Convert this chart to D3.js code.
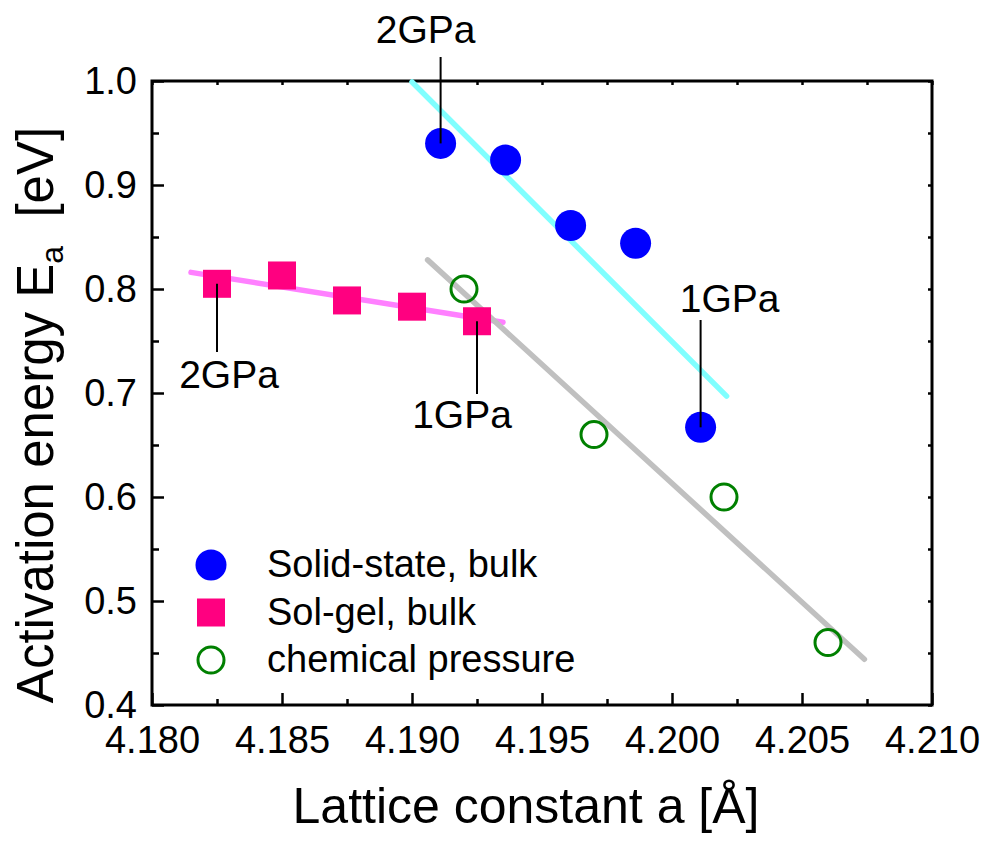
<!DOCTYPE html>
<html>
<head>
<meta charset="utf-8">
<script src="https://cdn.jsdelivr.net/npm/d3@7"></script>
<style>
  body { margin: 0; background: #fff; }
  svg text { font-family: "Liberation Sans", Arial, sans-serif; fill: #000; }
</style>
</head>
<body>
<script>
"use strict";

// ----------------------------------------
//  Data
// ----------------------------------------
const solidX = [4.1911, 4.1936, 4.1961, 4.1986, 4.2011];
const solidY = [0.940, 0.924, 0.861, 0.844, 0.667];

const solgelX = [4.1825, 4.1850, 4.1875, 4.1900, 4.1925];
const solgelY = [0.805, 0.813, 0.789, 0.783, 0.769];

const chemX = [4.1920, 4.1970, 4.2020, 4.2060];
const chemY = [0.800, 0.660, 0.600, 0.460];

// linear fits, as [x, y] end points
const solidFit  = [[4.1900, 0.999], [4.2021, 0.697]];
const solgelFit = [[4.1815, 0.816], [4.1935, 0.768]];
const chemFit   = [[4.1906, 0.828], [4.2074, 0.444]];

const xTicks = [4.180, 4.185, 4.190, 4.195, 4.200, 4.205, 4.210];
const yTicks = [0.4, 0.5, 0.6, 0.7, 0.8, 0.9, 1.0];

const legendLabels = ["Solid-state, bulk", "Sol-gel, bulk", "chemical pressure"];

// ----------------------------------------
//  Layout
// ----------------------------------------
const W = 986, H = 843;
const margin = {top: 81, right: 54, bottom: 138, left: 152};
const width = W - margin.left - margin.right;
const height = H - margin.top - margin.bottom;

const svg = d3.select("body").append("svg")
    .attr("width", W)
    .attr("height", H);

const g = svg.append("g")
    .attr("transform", "translate(" + margin.left + "," + margin.top + ")");

const x = d3.scaleLinear().domain([4.180, 4.210]).range([0, width]);
const y = d3.scaleLinear().domain([0.4, 1.0]).range([height, 0]);

// ----------------------------------------
//  Axes
// ----------------------------------------
const xMinor = d3.range(4.1825, 4.2100, 0.005);
const yMinor = d3.range(0.45, 1.0, 0.1);

// bottom
g.append("g")
    .attr("transform", "translate(0," + height + ")")
    .call(d3.axisBottom(x).tickValues(xTicks).tickFormat(d3.format(".3f"))
        .tickSizeInner(-12).tickSizeOuter(0).tickPadding(21))
    .call(a => a.selectAll("text").attr("font-size", 38));
g.append("g")
    .attr("transform", "translate(0," + height + ")")
    .call(d3.axisBottom(x).tickValues(xMinor).tickFormat("").tickSizeInner(-6).tickSizeOuter(0));

// left
g.append("g")
    .call(d3.axisLeft(y).tickValues(yTicks).tickFormat(d3.format(".1f"))
        .tickSizeInner(-12).tickSizeOuter(0).tickPadding(15))
    .call(a => a.selectAll("text").attr("font-size", 38));
g.append("g")
    .call(d3.axisLeft(y).tickValues(yMinor).tickFormat("").tickSizeInner(-7).tickSizeOuter(0));

// top and right, small mirror ticks
g.append("g")
    .call(d3.axisTop(x).tickValues(xTicks.concat(xMinor)).tickFormat("").tickSizeInner(-4).tickSizeOuter(0));
g.append("g")
    .attr("transform", "translate(" + width + ",0)")
    .call(d3.axisRight(y).tickValues(yTicks.concat(yMinor)).tickFormat("").tickSizeInner(-4).tickSizeOuter(0));

g.selectAll(".domain").remove();
g.selectAll(".tick line").attr("stroke", "#000").attr("stroke-width", 2.5);

// frame
g.append("rect")
    .attr("width", width)
    .attr("height", height)
    .attr("fill", "none")
    .attr("stroke", "#000")
    .attr("stroke-width", 3);

// axis titles
svg.append("text")
    .attr("x", 526)
    .attr("y", 823)
    .attr("text-anchor", "middle")
    .attr("font-size", 50)
    .text("Lattice constant a [Å]");

const yt = svg.append("text")
    .attr("transform", "translate(53,415) rotate(-90)")
    .attr("text-anchor", "middle")
    .attr("font-size", 51);
yt.append("tspan").text("Activation energy E");
yt.append("tspan").attr("font-size", 32).attr("dy", 10).text("a");
yt.append("tspan").attr("dy", -10).text("\u00a0 [eV]");

// ----------------------------------------
//  Fit lines
// ----------------------------------------
const line = d3.line().x(d => x(d[0])).y(d => y(d[1]));

[[solidFit, "#80ffff"], [solgelFit, "#ff80ff"], [chemFit, "#c0c0c0"]].forEach(function(f) {
    g.append("path")
        .attr("d", line(f[0]))
        .attr("fill", "none")
        .attr("stroke", f[1])
        .attr("stroke-width", 5.5)
        .attr("stroke-linecap", "round");
});

// ----------------------------------------
//  Markers
// ----------------------------------------
const solid = solidX.map((v, i) => ({x: v, y: solidY[i]}));
const solgel = solgelX.map((v, i) => ({x: v, y: solgelY[i]}));
const chem = chemX.map((v, i) => ({x: v, y: chemY[i]}));

g.selectAll(".chem")
    .data(chem)
    .enter().append("circle")
    .attr("class", "chem")
    .attr("cx", d => x(d.x))
    .attr("cy", d => y(d.y))
    .attr("r", 13)
    .attr("fill", "none")
    .attr("stroke", "#008000")
    .attr("stroke-width", 3);

g.selectAll(".solgel")
    .data(solgel)
    .enter().append("rect")
    .attr("class", "solgel")
    .attr("x", d => x(d.x) - 14)
    .attr("y", d => y(d.y) - 14)
    .attr("width", 28)
    .attr("height", 28)
    .attr("fill", "#ff0080");

g.selectAll(".solid")
    .data(solid)
    .enter().append("circle")
    .attr("class", "solid")
    .attr("cx", d => x(d.x))
    .attr("cy", d => y(d.y))
    .attr("r", 15.5)
    .attr("fill", "#0000ff");

// ----------------------------------------
//  Pressure annotations
// ----------------------------------------
function note(px, py, lineEnd, label, tx, ty) {
    g.append("line")
        .attr("x1", x(px)).attr("y1", y(py))
        .attr("x2", x(px)).attr("y2", lineEnd)
        .attr("stroke", "#000")
        .attr("stroke-width", 2);
    g.append("text")
        .attr("x", x(px) + tx)
        .attr("y", ty)
        .attr("text-anchor", "middle")
        .attr("font-size", 39)
        .text(label);
}
note(4.1911, 0.940, 57 - margin.top, "2GPa", -15, 43 - margin.top);
note(4.2011, 0.667, 320 - margin.top, "1GPa", 29, 312 - margin.top);
note(4.1825, 0.805, 352 - margin.top, "2GPa", 12, 388 - margin.top);
note(4.1925, 0.769, 394 - margin.top, "1GPa", -15, 428 - margin.top);

// ----------------------------------------
//  Legend
// ----------------------------------------
const lg = g.append("g").attr("transform", "translate(" + (211 - margin.left) + "," + (565 - margin.top) + ")");
const rowH = 47.5;

lg.append("circle").attr("cx", 0).attr("cy", 0).attr("r", 15.5).attr("fill", "#0000ff");
lg.append("rect").attr("x", -14).attr("y", rowH - 14).attr("width", 28).attr("height", 28).attr("fill", "#ff0080");
lg.append("circle").attr("cx", 0).attr("cy", 2 * rowH).attr("r", 13)
    .attr("fill", "none").attr("stroke", "#008000").attr("stroke-width", 3);

lg.selectAll(".lgtext")
    .data(legendLabels)
    .enter().append("text")
    .attr("x", 56)
    .attr("y", (d, i) => i * rowH + 12)
    .attr("font-size", 38)
    .text(d => d);
</script>
</body>
</html>
